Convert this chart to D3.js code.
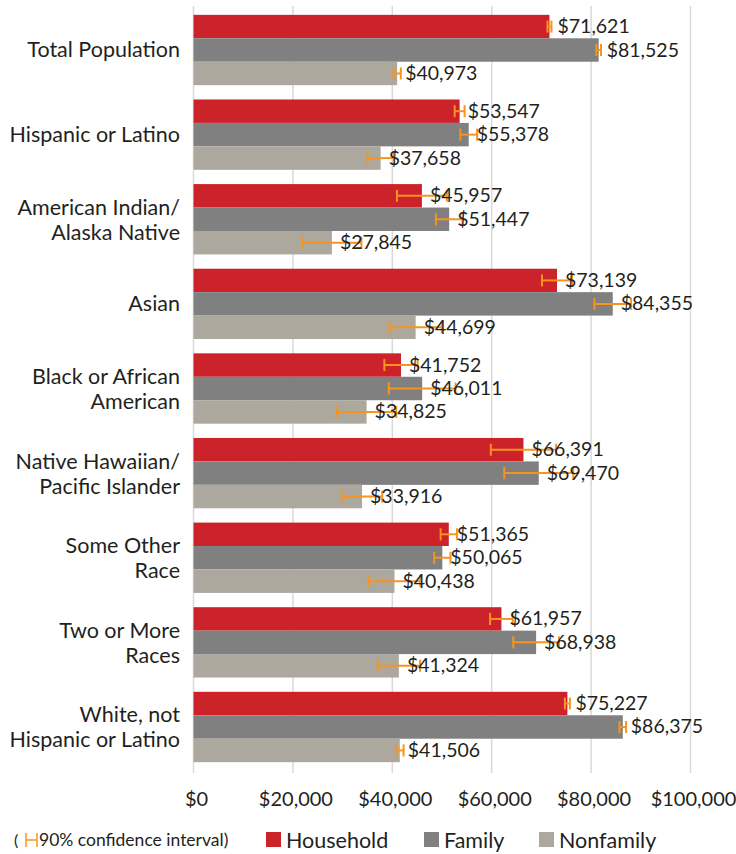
<!DOCTYPE html>
<html><head><meta charset="utf-8">
<script src="https://cdn.jsdelivr.net/npm/d3@7"></script>
<style>
html,body{margin:0;padding:0;background:#fff;}
svg{display:block;font-family:Lato,"Open Sans",sans-serif;}
</style></head>
<body><svg id="chart" width="736" height="854"></svg>
<script>
const categories = [
  ["Total Population"],
  ["Hispanic or Latino"],
  ["American Indian/", "Alaska Native"],
  ["Asian"],
  ["Black or African", "American"],
  ["Native Hawaiian/", "Pacific Islander"],
  ["Some Other", "Race"],
  ["Two or More", "Races"],
  ["White, not", "Hispanic or Latino"]
];
const seriesNames = ["Household", "Family", "Nonfamily"];
const household = [71621, 53547, 45957, 73139, 41752, 66391, 51365, 61957, 75227];
const family    = [81525, 55378, 51447, 84355, 46011, 69470, 50065, 68938, 86375];
const nonfamily = [40973, 37658, 27845, 44699, 34825, 33916, 40438, 41324, 41506];
const moeHousehold = [400, 1000, 5030, 3020, 3350, 6570, 1640, 2280, 500];
const moeFamily    = [470, 1680, 2680, 3690, 6710, 6940, 1640, 4600, 670];
const moeNonfamily = [740, 2650, 5940, 5260, 5970, 4060, 5200, 4260, 770];
const xTicks = [0, 20000, 40000, 60000, 80000, 100000];
const colors = ["#cc2229", "#808080", "#aca89e"];
const ciColor = "#f7941d";

const values = [household, family, nonfamily];
const moes = [moeHousehold, moeFamily, moeNonfamily];

const svg = d3.select("#chart");
const x = d3.scaleLinear().domain([0, 100000]).range([193.5, 690.5]);
const y = d3.scaleBand().domain(d3.range(categories.length)).range([7.7, 769.3])
  .paddingInner(0.169).paddingOuter(0.0845);
const ys = d3.scaleBand().domain(d3.range(seriesNames.length)).range([0, y.bandwidth()]);

// gridlines
svg.append("g").selectAll("line").data(xTicks).join("line")
  .attr("x1", d => x(d)).attr("x2", d => x(d))
  .attr("y1", 6).attr("y2", 773)
  .attr("stroke", "#d9d9d9").attr("stroke-width", 1.5);

// x axis labels
svg.append("g").selectAll("text").data(xTicks).join("text")
  .attr("x", d => x(d) + 3).attr("y", 806)
  .attr("text-anchor", "middle").attr("font-size", 20).attr("fill", "#231f20")
  .text(d => d3.format("$,")(d));

// category labels
const cat = svg.append("g").selectAll("text").data(categories).join("text")
  .attr("text-anchor", "end").attr("font-size", 21.5).attr("fill", "#231f20")
  .attr("x", 180)
  .attr("y", (d, i) => y(i) + y.bandwidth() / 2);
cat.selectAll("tspan").data(d => d.map((t, j) => ({t, j, n: d.length}))).join("tspan")
  .attr("x", 180)
  .attr("dy", (d) => d.j === 0 ? (d.n === 1 ? 7 : -4.5) : 25)
  .text(d => d.t);

// bars
seriesNames.forEach((s, si) => {
  const g = svg.append("g");
  g.selectAll("rect").data(values[si]).join("rect")
    .attr("x", x(0)).attr("y", (d, i) => y(i) + ys(si))
    .attr("width", d => x(d) - x(0)).attr("height", ys.bandwidth())
    .attr("fill", colors[si]);
});

// error bars
seriesNames.forEach((s, si) => {
  const g = svg.append("g").attr("stroke", ciColor).attr("stroke-width", 2).attr("fill", "none");
  values[si].forEach((v, i) => {
    const cy = y(i) + ys(si) + ys.bandwidth() / 2;
    const lo = x(v - moes[si][i]), hi = x(v + moes[si][i]);
    g.append("line").attr("x1", lo).attr("x2", hi).attr("y1", cy).attr("y2", cy);
    g.append("line").attr("x1", lo).attr("x2", lo).attr("y1", cy - 6).attr("y2", cy + 6);
    g.append("line").attr("x1", hi).attr("x2", hi).attr("y1", cy - 6).attr("y2", cy + 6);
  });
});

// value labels
seriesNames.forEach((s, si) => {
  svg.append("g").selectAll("text").data(values[si]).join("text")
    .attr("x", d => x(d) + 8)
    .attr("y", (d, i) => y(i) + ys(si) + ys.bandwidth() / 2 + 6.5)
    .attr("font-size", 19.5).attr("fill", "#231f20")
    .text(d => d3.format("$,")(d));
});

// legend
const lg = svg.append("g");
lg.append("text").attr("x", 14).attr("y", 846).attr("font-size", 16).attr("fill", "#231f20").text("(");
lg.append("line").attr("x1", 26).attr("x2", 37).attr("y1", 840).attr("y2", 840).attr("stroke", ciColor).attr("stroke-width", 1.5);
lg.append("line").attr("x1", 26).attr("x2", 26).attr("y1", 833).attr("y2", 847).attr("stroke", ciColor).attr("stroke-width", 1.5);
lg.append("line").attr("x1", 37).attr("x2", 37).attr("y1", 833).attr("y2", 847).attr("stroke", ciColor).attr("stroke-width", 1.5);
lg.append("text").attr("x", 39).attr("y", 846).attr("font-size", 17.5).attr("fill", "#231f20").text("90% confidence interval)");
const legendX = [266, 424, 539];
seriesNames.forEach((s, si) => {
  lg.append("rect").attr("x", legendX[si]).attr("y", 832).attr("width", 15).attr("height", 15).attr("fill", colors[si]);
  lg.append("text").attr("x", legendX[si] + 20).attr("y", 848).attr("font-size", 21.5).attr("fill", "#231f20").text(s);
});
</script></body></html>
